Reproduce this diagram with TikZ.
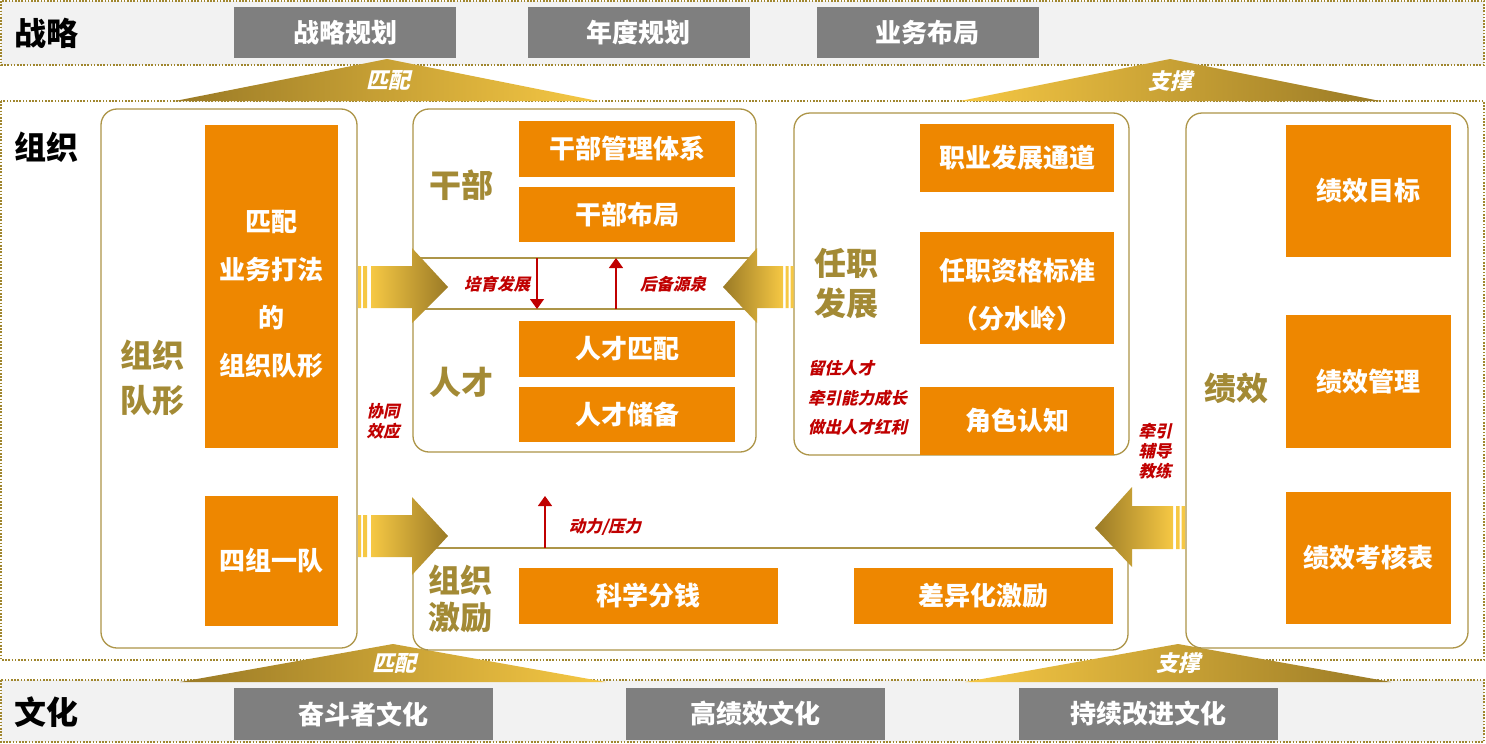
\documentclass[tikz,border=0pt]{standalone}
\usepackage{fontspec}
\setmainfont{Noto Sans CJK SC}
\newfontfamily\slantcjk{Noto Sans CJK SC}[FakeSlant=0.22]
\usepackage{tikz}
\usetikzlibrary{arrows.meta}
\definecolor{zzOrange}{HTML}{EE8700}
\definecolor{zzGray}{HTML}{7F7F7F}
\definecolor{zzBand}{HTML}{F2F2F2}
\definecolor{zzDot}{HTML}{A0862E}
\definecolor{zzPanel}{HTML}{AD9548}
\definecolor{zzOlive}{HTML}{A38A35}
\definecolor{zzRed}{HTML}{C00000}
\definecolor{gLight}{HTML}{F6C844}
\definecolor{gDark}{HTML}{9A7A26}
\tikzset{
  band/.style={draw=zzDot, line width=1.6pt, dash pattern=on 1.6pt off 1.6pt},
  panel/.style={draw=zzPanel, line width=1.3pt, rounded corners=16pt},
  divider/.style={draw=zzPanel, line width=1.3pt},
  orgbox/.style={fill=zzOrange, text=white, inner sep=0pt, align=center,
    font=\fontsize{26}{48}\selectfont\bfseries},
  orgtext/.style={text=white, inner sep=0pt, align=center,
    font=\fontsize{26}{48}\selectfont\bfseries},
  graybox/.style={fill=zzGray, text=white, inner sep=0pt, minimum height=51pt,
    font=\fontsize{26}{30}\selectfont\bfseries},
  seclabel/.style={font=\fontsize{32}{36}\selectfont\bfseries},
  biglabel/.style={text=zzOlive, align=center, font=\fontsize{32}{45}\selectfont\bfseries},
  redtag/.style={text=zzRed, align=left, inner sep=0pt,
    font=\slantcjk\fontsize{16.5}{20}\selectfont\bfseries},
  wingtext/.style={text=white, font=\slantcjk\fontsize{22}{24}\selectfont\bfseries},
  redarrow/.style={-{Triangle[length=10pt, width=14pt]}, draw=zzRed, line width=1.4pt}
}
\begin{document}
\begin{tikzpicture}[x=1pt, y=-1pt]
  \useasboundingbox (0,0) rectangle (1486,744);

  % bands
  \draw[band, fill=zzBand] (1,1) rectangle (1484,65);
  \draw[band, fill=white] (1,101) rectangle (1484,660);
  \draw[band, fill=zzBand] (1,680) rectangle (1484,742);

  \node[seclabel] (strat) at (46,33) {战略};
  \node[seclabel] (org) at (46,147) {组织};
  \node[seclabel] (cult) at (46,712) {文化};

  \foreach \i/\cx/\name in {0/345/战略规划, 1/638.5/年度规划, 2/927.5/业务布局}{
    \node[graybox, minimum width=222pt] (s\i) at (\cx,32.5) {\name};
  }
  \foreach \i/\cx/\name in {0/363/奋斗者文化, 1/755.5/高绩效文化, 2/1148.5/持续改进文化}{
    \node[graybox, minimum width=259pt, minimum height=52pt] (c\i) at (\cx,714) {\name};
  }

  % wings
  \shade[left color=gDark, right color=gLight] (175,101) -- (387,59) -- (598,101) -- cycle;
  \shade[left color=gLight, right color=gDark] (960,101) -- (1170,59) -- (1380,101) -- cycle;
  \shade[left color=gDark, right color=gLight] (180,682) -- (393,644) -- (606,682) -- cycle;
  \shade[left color=gLight, right color=gDark] (965,682) -- (1178,644) -- (1391,682) -- cycle;
  \node[wingtext] (fitUp) at (388,80) {匹配};
  \node[wingtext] (supUp) at (1170,81) {支撑};
  \node[wingtext] (fitDown) at (394,663) {匹配};
  \node[wingtext] (supDown) at (1178,663) {支撑};

  % panels
  \draw[panel] (101,109) rectangle (357,648);
  \draw[panel] (413,109) rectangle (756,452);
  \draw[divider] (413,258) -- (756,258) (413,309) -- (756,309);
  \draw[panel] (794,113) rectangle (1129,455);
  \draw[panel] (1186,113) rectangle (1468,648);
  \draw[divider] (413,548) -- (1128,548);
  \draw[divider, rounded corners=16pt] (413,548) -- (413,650) -- (1128,650) -- (1128,548);

  % formation
  \node[biglabel] (formLbl) at (152,378) {组织\\队形};
  \node[orgbox, minimum width=133pt, minimum height=323pt] (fit) at (271.5,286.5) {};
  \node[orgtext] (fitTxt) at ([yshift=-8pt]fit.center) {匹配\\业务打法\\的\\组织队形};
  \node[orgbox, minimum width=133pt, minimum height=130pt] (team) at (271.5,561) {四组一队};

  % cadre / talent
  \node[biglabel] (cadreLbl) at (461,185) {干部};
  \node[biglabel] (talentLbl) at (461,382) {人才};
  \node[orgbox, minimum width=216pt, minimum height=56pt] (cadreSys) at (627,149) {干部管理体系};
  \node[orgbox, minimum width=216pt, minimum height=55pt] (cadreLay) at (627,214.5) {干部布局};
  \node[orgbox, minimum width=216pt, minimum height=56pt] (talMatch) at (627,349) {人才匹配};
  \node[orgbox, minimum width=216pt, minimum height=55pt] (talRes) at (627,414.5) {人才储备};

  \coordinate (growTop) at (537,258);
  \coordinate (growBot) at (537,309);
  \coordinate (poolBot) at (616,309);
  \coordinate (poolTop) at (616,258);
  \draw[redarrow] (growTop) -- (growBot);
  \draw[redarrow] (poolBot) -- (poolTop);
  \node[redtag] (grow) at (497,284) {培育发展};
  \node[redtag] (pool) at (673,284) {后备源泉};

  % career
  \node[biglabel, font=\fontsize{32}{40}\selectfont\bfseries] (careerLbl) at (846,284) {任职\\发展};
  \node[orgbox, minimum width=194pt, minimum height=68pt] (path) at (1017,158) {职业发展通道};
  \node[orgbox, minimum width=194pt, minimum height=112pt] (qual) at (1017,288) {};
  \node[orgtext] (qualTxt) at ([yshift=-7pt]qual.center) {任职资格标准\\（分水岭）};
  \node[orgbox, minimum width=194pt, minimum height=68pt] (role) at (1017,421) {角色认知};
  \node[redtag, anchor=west, font=\slantcjk\fontsize{16.5}{29.5}\selectfont\bfseries]
    (keep) at (808,398) {留住人才\\牵引能力成长\\做出人才红利};

  % performance
  \node[biglabel] (perfLbl) at (1236,388) {绩效};
  \node[orgbox, minimum width=165pt, minimum height=132pt] (goal) at (1368.5,191) {绩效目标};
  \node[orgbox, minimum width=165pt, minimum height=133pt] (mgmt) at (1368.5,381.5) {绩效管理};
  \node[orgbox, minimum width=165pt, minimum height=132pt] (sheet) at (1368.5,558) {绩效考核表};
  \node[redtag, align=center] (coach) at (1155,451) {牵引\\辅导\\教练};

  % incentive
  \node[biglabel, font=\fontsize{32}{37}\selectfont\bfseries] (motLbl) at (460,599) {组织\\激励};
  \node[orgbox, minimum width=259pt, minimum height=56pt] (money) at (648.5,596) {科学分钱};
  \node[orgbox, minimum width=259pt, minimum height=56pt] (diff) at (983.5,596) {差异化激励};
  \coordinate (driveBot) at (545,548);
  \coordinate (driveTop) at (545,496);
  \draw[redarrow] (driveBot) -- (driveTop);
  \node[redtag] (drive) at (605,527) {动力/压力};
  \node[redtag, align=center] (synergy) at (383,421) {协同\\效应};

  % gold arrows
  \fill[gLight] (358,266) rectangle (361,308) (363,266) rectangle (367,308);
  \shade[left color=gLight, right color=gDark] (371,266) -- (412,266) -- (412,248)
    -- (448,287) -- (412,323) -- (412,308) -- (371,308) -- cycle;
  \fill[gLight] (785.5,266) rectangle (788.5,308) (790.5,266) rectangle (793.5,308);
  \shade[left color=gDark, right color=gLight] (783,266) -- (757,266) -- (757,248)
    -- (723,287) -- (757,323) -- (757,308) -- (783,308) -- cycle;
  \fill[gLight] (358,515) rectangle (361,557) (363,515) rectangle (367,557);
  \shade[left color=gLight, right color=gDark] (371,515) -- (412,515) -- (412,497)
    -- (448,536) -- (412,575) -- (412,557) -- (371,557) -- cycle;
  \fill[gLight] (1176,506) rectangle (1179.5,549) (1181.5,506) rectangle (1185,549);
  \shade[left color=gDark, right color=gLight] (1173,506) -- (1132,506) -- (1132,487)
    -- (1095,528) -- (1132,567) -- (1132,549) -- (1173,549) -- cycle;
\end{tikzpicture}
\end{document}
